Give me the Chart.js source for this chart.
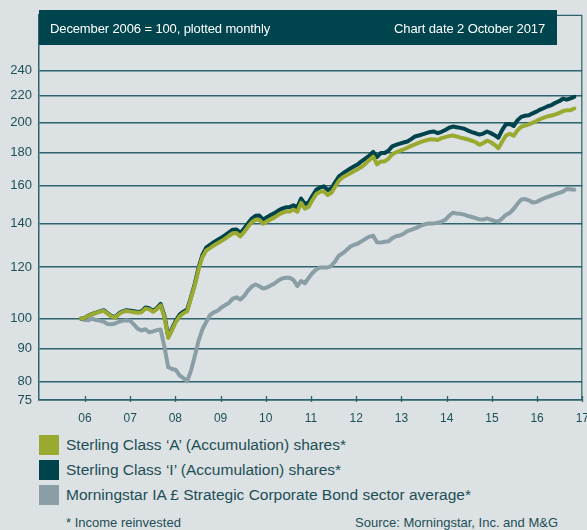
<!DOCTYPE html>
<html><head><meta charset="utf-8">
<script src="https://cdn.jsdelivr.net/npm/chart.js@4.4.1/dist/chart.umd.min.js"></script>
<style>
html,body{margin:0;padding:0;background:#dce1e3;width:587px;height:530px;overflow:hidden;font-family:"Liberation Sans",Arial,sans-serif;}
#wrap{position:relative;width:587px;height:530px;overflow:hidden;}
#c{position:absolute;left:0;top:0;}
#hdr{position:absolute;left:39px;top:10px;width:518px;height:35px;background:#00444e;color:#fff;font-size:13px;letter-spacing:-0.12px;}
#hdr .l{position:absolute;left:11px;top:0;line-height:37px;white-space:nowrap;}
#hdr .r{position:absolute;right:12px;top:0;line-height:37px;white-space:nowrap;}
.leg{position:absolute;left:39px;height:20px;width:540px;}
.leg .sw{position:absolute;left:0;top:0;width:20px;height:20px;}
.leg .tx{position:absolute;left:27px;top:0;line-height:20px;font-size:15.5px;color:#1d4e56;white-space:nowrap;}
.foot{position:absolute;font-size:13px;line-height:15px;color:#1d4e56;white-space:nowrap;}
</style></head>
<body>
<div id="wrap">
<canvas id="c" width="600" height="430" style="width:600px;height:430px"></canvas>
<div id="hdr"><span class="l">December 2006 = 100, plotted monthly</span><span class="r">Chart date 2 October 2017</span></div>
<div id="legend"></div>
<div class="foot" style="left:66px;top:515px">* Income reinvested</div>
<div class="foot" style="left:355px;top:515px">Source: Morningstar, Inc. and M&amp;G</div>
</div>
<script>
// ---- data (monthly, Dec 2006 = 100) ----
const yearLabels = ['06','07','08','09','10','11','12','13','14','15','16','17'];
const yTickValues = [75,80,90,100,120,140,160,180,200,220,240];
const seriesNames = [
  "Sterling Class \u2018A\u2019 (Accumulation) shares*",
  "Sterling Class \u2018I\u2019 (Accumulation) shares*",
  "Morningstar IA \u00a3 Strategic Corporate Bond sector average*"
];
const classA = [
100,100.3,101.0,101.6,102.0,102.5,102.8,101.8,100.8,100.3,
101.6,102.4,102.7,102.5,102.3,102.1,102.3,103.6,103.3,102.4,
103.4,104.8,100.5,93.4,96.0,98.8,100.8,101.9,102.6,107.5,
112.5,119.0,124.2,127.2,128.3,129.5,130.5,131.5,132.7,134.0,
135.2,135.3,133.7,135.8,138.3,140.6,141.8,141.8,139.8,141.0,
142.0,143.0,144.3,145.3,146.0,146.0,147.0,145.8,150.5,147.5,
148.5,152.0,155.3,156.5,156.8,154.8,156.0,159.5,162.9,164.8,
166.0,167.2,168.5,169.7,171.0,172.9,175.2,177.2,172.5,174.3,
174.3,175.9,178.6,180.0,180.9,181.8,182.9,184.1,185.1,186.1,
187.1,187.8,188.4,188.3,188.0,189.2,189.9,190.6,191.0,190.3,
189.6,189.0,188.3,187.5,186.5,184.8,186.0,187.5,186.5,184.8,
182.6,187.0,191.0,192.2,190.8,194.5,197.0,197.8,198.7,199.7,
201.0,202.4,203.4,204.4,205.0,205.8,206.8,208.2,208.8,208.9,
210.1];
const classI = [
100,100.3,101.1,101.7,102.1,102.6,103.0,102.0,101.0,100.5,
101.8,102.6,103.0,102.8,102.6,102.4,102.6,104.0,103.7,102.8,
103.8,105.3,101.0,93.9,96.5,99.3,101.4,102.5,103.3,107.9,
113.1,119.8,125.2,128.5,129.8,131.0,132.1,133.1,134.3,135.6,
136.9,137.0,135.3,137.5,140.0,142.4,143.8,143.9,141.9,143.1,
144.2,145.2,146.5,147.5,148.2,148.3,149.3,148.1,152.8,149.8,
150.8,154.3,157.7,158.9,159.6,157.4,158.5,162.0,165.3,167.0,
168.5,170.0,171.3,172.6,174.5,176.2,177.8,180.3,177.0,179.5,
179.5,181.0,183.8,184.8,185.6,186.3,187.0,188.6,190.3,191.0,
191.8,192.6,193.4,193.7,192.6,193.5,194.8,196.3,197.1,196.7,
196.2,195.6,194.3,193.3,192.5,191.6,192.3,193.7,192.6,191.2,
189.5,194.8,198.8,199.0,197.5,201.5,204.0,204.8,205.2,206.5,
207.8,209.3,210.5,211.8,212.7,214.4,215.6,217.5,216.8,217.8,
219.0];
const sectorAvg = [
100,99.5,99.4,100.0,99.5,99.3,98.9,98.1,98.0,98.3,
98.9,99.2,99.4,99.2,97.9,96.4,95.9,96.3,95.3,95.6,
96.0,96.2,90.5,84.2,83.7,83.4,81.8,81.0,80.2,83.2,
87.6,92.5,96.3,98.8,101.2,102.2,102.8,104.0,104.9,105.7,
107.3,107.8,107.0,108.3,110.4,112.0,112.8,112.1,111.2,111.6,
112.4,113.2,114.4,115.2,115.5,115.5,114.6,112.2,114.2,113.3,
115.5,117.5,119.0,119.8,119.8,119.8,120.5,122.5,125.0,126.0,
127.4,129.0,129.8,130.4,131.5,132.6,133.6,134.0,131.0,130.8,
131.2,131.4,132.8,133.8,134.1,135.0,136.2,136.8,137.5,138.4,
139.2,139.8,140.0,140.0,140.3,140.8,141.8,143.8,145.4,145.0,
144.8,144.4,143.7,143.2,142.6,142.0,141.9,142.5,141.8,141.2,
140.9,142.5,144.3,145.3,147.3,150.0,152.3,152.6,151.9,150.7,
151.0,152.0,153.0,153.8,154.5,155.2,155.9,156.6,158.1,158.0,
157.7];

// ---- styling ----
const colors = ['#9aaa30','#00434c','#8a9ea5'];
const inkColor = '#1d5058';
const gridColor = '#2c636c';
const firstTickMonth = 1.05, monthsPerYearTick = 11.914;

// legend (HTML)
const legEl = document.getElementById('legend');
seriesNames.forEach((n,i)=>{
  const d = document.createElement('div');
  d.className='leg'; d.style.top = (435 + i*25) + 'px';
  d.innerHTML = '<div class="sw" style="background:'+colors[i]+'"></div><div class="tx"></div>';
  d.querySelector('.tx').textContent = n;
  legEl.appendChild(d);
});

const toPts = arr => arr.map((v,i)=>({x:i,y:v}));

const framePlugin = {
  id:'frame',
  afterDraw(chart){
    const {ctx, chartArea:a, scales} = chart;
    ctx.save();
    ctx.strokeStyle = gridColor;
    ctx.lineWidth = 1.2;
    ctx.beginPath();
    ctx.moveTo(a.left, a.top+0.5); ctx.lineTo(a.right, a.top+0.5);
    ctx.moveTo(a.right-0.5, a.top); ctx.lineTo(a.right-0.5, a.bottom);
    ctx.stroke();
    ctx.lineWidth = 1.3;
    ctx.beginPath();
    scales.x.ticks.forEach(t=>{
      const px = Math.round(scales.x.getPixelForValue(t.value))+0.5;
      ctx.moveTo(px, a.bottom-4); ctx.lineTo(px, a.bottom+2);
    });
    ctx.stroke();
    ctx.restore();
  }
};

new Chart(document.getElementById('c'), {
  type:'line',
  data:{ datasets:[
    {label:seriesNames[0], data:toPts(classA), borderColor:colors[0], borderWidth:4},
    {label:seriesNames[1], data:toPts(classI), borderColor:colors[1], borderWidth:4},
    {label:seriesNames[2], data:toPts(sectorAvg), borderColor:colors[2], borderWidth:4}
  ]},
  options:{
    responsive:false, animation:false, devicePixelRatio:1,
    layout:{padding:{top:10,left:0,right:17,bottom:0}},
    elements:{point:{radius:0}, line:{tension:0, borderJoinStyle:'round', borderCapStyle:'round'}},
    plugins:{legend:{display:false}, tooltip:{enabled:false}},
    scales:{
      x:{
        type:'linear', min:-11.05, max:132.1,
        afterBuildTicks(s){ s.ticks = yearLabels.map((l,k)=>({value:firstTickMonth + k*monthsPerYearTick})); },
        afterFit(s){ s.height = 30; },
        ticks:{ callback:(v,i)=>yearLabels[i], color:inkColor, font:{family:'"Liberation Sans", Arial, sans-serif', size:12}, padding:11, maxRotation:0, autoSkip:false },
        grid:{ display:false, drawTicks:false },
        border:{ display:true, color:gridColor, width:1.5 }
      },
      y:{
        type:'logarithmic', min:75, max:292.6,
        afterBuildTicks(s){ s.ticks = yTickValues.map(v=>({value:v})); },
        afterFit(s){ s.width = 39; },
        ticks:{ callback:v=>String(v), color:inkColor, font:{family:'"Liberation Sans", Arial, sans-serif', size:13}, padding:7, autoSkip:false },
        grid:{ color:gridColor, lineWidth:1.5, drawTicks:false },
        border:{ display:true, color:gridColor, width:1.5 }
      }
    }
  },
  plugins:[framePlugin]
});
</script>
</body></html>
